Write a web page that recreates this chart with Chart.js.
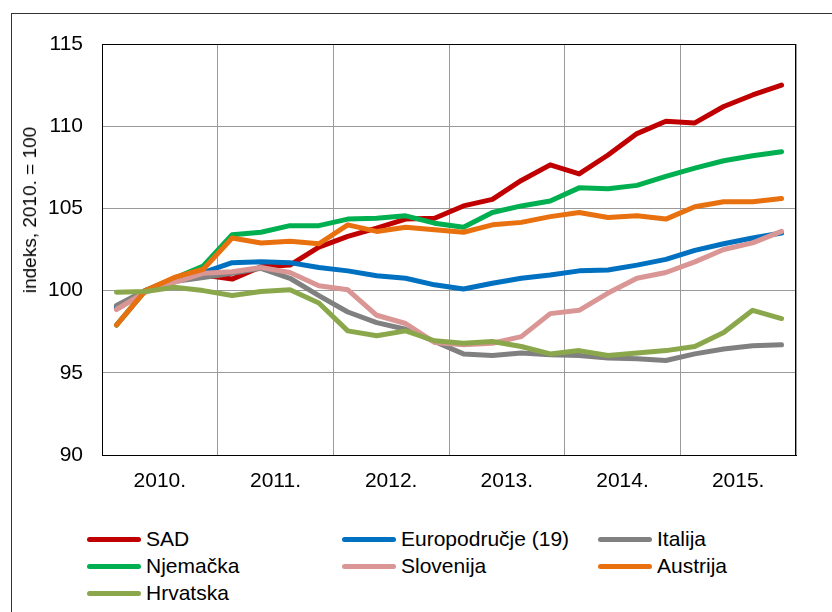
<!DOCTYPE html>
<html>
<head>
<meta charset="utf-8">
<script src="https://cdn.jsdelivr.net/npm/chart.js"></script>
<style>
  body { margin: 0; width: 832px; height: 612px; overflow: hidden; background: #fff; position: relative; font-family: "Liberation Sans", Arial, sans-serif; }
  #frame { position: absolute; left: 11px; top: 13px; width: 900px; height: 700px; border: 1px solid #333; }
  #wrap { position: absolute; left: 0; top: 0; width: 832px; height: 500px; }
  #ytitle { position: absolute; left: 30px; top: 210px; transform: translate(-50%, -50%) rotate(-90deg); font-size: 19px; white-space: nowrap; color: #000; }
  .leg { position: absolute; display: flex; align-items: center; font-size: 21px; color: #000; white-space: nowrap; transform: translateY(-50%); }
  .leg i { display: inline-block; width: 54px; height: 5px; border-radius: 3px; margin-right: 5px; }
</style>
</head>
<body>
<div id="frame"></div>
<div id="wrap"><canvas id="c" width="832" height="500"></canvas></div>
<div id="ytitle">indeks, 2010. = 100</div>
<div id="legend"></div>
<script>
// 1. Data (quarterly index, 2010. = 100)
const years = ['2010.', '2011.', '2012.', '2013.', '2014.', '2015.'];
const names = ['SAD', 'Europodručje (19)', 'Italija', 'Njemačka', 'Slovenija', 'Austrija', 'Hrvatska'];
const colors = ['#c00000', '#0070c0', '#808080', '#00b050', '#da9694', '#e8700e', '#8aa84b'];

const sad = [98.9, 100.0, 100.6, 100.95, 100.7, 101.45, 101.55, 102.65, 103.3, 103.8, 104.35, 104.4, 105.15, 105.55, 106.7, 107.65, 107.1, 108.25, 109.55, 110.3, 110.2, 111.2, 111.9, 112.5];
const euro = [99.0, 100.0, 100.7, 101.1, 101.7, 101.75, 101.7, 101.4, 101.2, 100.9, 100.75, 100.35, 100.1, 100.45, 100.75, 100.95, 101.2, 101.25, 101.55, 101.9, 102.45, 102.85, 103.2, 103.5];
const italija = [99.1, 100.0, 100.55, 100.8, 101.05, 101.35, 100.75, 99.7, 98.7, 98.05, 97.65, 96.9, 96.15, 96.05, 96.2, 96.1, 96.05, 95.9, 95.85, 95.75, 96.15, 96.45, 96.65, 96.7];
const njemacka = [97.9, 100.0, 100.75, 101.5, 103.4, 103.55, 103.95, 103.95, 104.35, 104.4, 104.55, 104.1, 103.85, 104.75, 105.15, 105.45, 106.25, 106.2, 106.4, 106.95, 107.45, 107.9, 108.2, 108.45];
const slovenija = [98.85, 99.9, 100.5, 101.05, 101.15, 101.4, 101.1, 100.3, 100.05, 98.5, 98.0, 96.85, 96.7, 96.8, 97.2, 98.6, 98.8, 99.85, 100.75, 101.1, 101.75, 102.5, 102.9, 103.6];
const austrija = [97.9, 100.0, 100.8, 101.3, 103.2, 102.9, 103.0, 102.85, 104.0, 103.6, 103.85, 103.7, 103.55, 104.0, 104.15, 104.5, 104.75, 104.45, 104.55, 104.35, 105.1, 105.4, 105.4, 105.6];
const hrvatska = [99.9, 99.95, 100.2, 100.0, 99.7, 99.95, 100.05, 99.25, 97.55, 97.25, 97.55, 96.95, 96.8, 96.9, 96.6, 96.15, 96.35, 96.05, 96.2, 96.35, 96.6, 97.45, 98.8, 98.3];
const series = [sad, euro, italija, njemacka, slovenija, austrija, hrvatska];

// 2. Legend (3 columns, Excel style)
const legCols = [87, 342, 598], legRows = [539, 566, 593];
const legend = document.getElementById('legend');
names.forEach((n, i) => {
    const d = document.createElement('div');
    d.className = 'leg';
    d.style.left = legCols[i % 3] + 'px';
    d.style.top = legRows[Math.floor(i / 3)] + 'px';
    d.innerHTML = `<i style="background:${colors[i]}"></i>${n}`;
    legend.append(d);
});

// 3. Plot frame
const framePlugin = {
    id: 'frame',
    afterDraw(chart) {
        const { ctx, chartArea: a } = chart;
        ctx.save();
        ctx.strokeStyle = '#000';
        ctx.lineWidth = 1;
        ctx.strokeRect(a.left + 0.5, a.top + 0.5, a.right - a.left - 1, a.bottom - a.top);
        ctx.restore();
    }
};

const font = { family: '"Liberation Sans", Arial, sans-serif', size: 21 };

new Chart(document.getElementById('c').getContext('2d'), {
    type: 'line',
    data: {
        datasets: series.map((s, i) => ({
            label: names[i], data: s.map((v, q) => ({ x: q + 0.5, y: v })),
            borderColor: colors[i], backgroundColor: colors[i], borderWidth: 5,
            pointRadius: 0, tension: 0, borderCapStyle: 'round', borderJoinStyle: 'round',
            order: series.length - i
        }))
    },
    options: {
        responsive: false, animation: false,
        layout: { padding: { left: 42, top: 44, right: 36, bottom: 0 } },
        plugins: { legend: { display: false }, tooltip: { enabled: false } },
        scales: {
            x: {
                type: 'linear', min: 0, max: 24,
                afterBuildTicks: s => { s.ticks = Array.from({ length: 13 }, (_, k) => ({ value: k * 2 })); },
                afterFit: s => { s.height = 45; },
                ticks: { font, color: '#000', padding: 14, autoSkip: false, maxRotation: 0,
                    callback: v => v % 4 === 2 ? years[(v - 2) / 4] : '' },
                grid: { drawTicks: false, color: c => c.tick && c.tick.value % 4 === 0 ? '#9a9a9a' : 'rgba(0,0,0,0)' },
                border: { color: '#000' }
            },
            y: {
                min: 90, max: 115,
                afterFit: s => { s.width = 60; },
                ticks: { stepSize: 5, font, color: '#000', padding: 19 },
                grid: { drawTicks: false, color: '#9a9a9a' },
                border: { color: '#000' }
            }
        }
    },
    plugins: [framePlugin]
});
</script>
</body>
</html>
